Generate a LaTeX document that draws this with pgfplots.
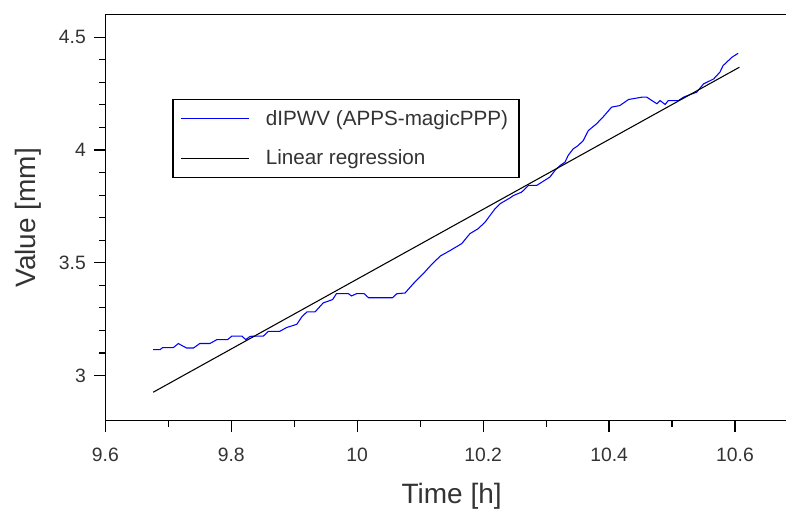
\documentclass[border=0pt]{standalone}
\usepackage{fontspec}
\setmainfont{Liberation Sans}
\usepackage{pgfplots}
\pgfplotsset{compat=1.18}
\definecolor{txt}{gray}{0.2}
\begin{document}
\begin{tikzpicture}
\begin{axis}[
  scale only axis,
  width=519.5pt, height=304.5pt,
  xmin=9.6, xmax=10.7, ymin=2.8, ymax=4.6,
  xtick={9.6,9.8,10,10.2,10.4,10.6},
  ytick={3,3.5,4,4.5},
  minor x tick num=1, minor y tick num=4,
  tick pos=left, tick align=outside,
  major tick length=8.6pt, minor tick length=4.5pt,
  every tick/.append style={black, line width=0.9pt},
  axis line style={black, line width=1.1pt},
  /pgf/number format/assume math mode=true,
  ticklabel style={font=\fontsize{14.5}{17}\selectfont, text=txt},
  xticklabel style={yshift=-8pt},
  yticklabel style={xshift=-2.5pt},
  xlabel={Time [h]}, ylabel={Value [mm]},
  label style={font=\fontsize{21}{25}\selectfont, text=txt},
  xlabel style={at={(axis description cs:0.5,-0.186)}, anchor=center},
  ylabel style={at={(axis description cs:-0.1109,0.5)}, anchor=center},
  legend style={at={(rel axis cs:0.0963,0.7924)}, anchor=north west,
    draw=black, line width=1.1pt, fill=white,
    font=\fontsize{15.5}{18}\selectfont, text=txt,
    inner xsep=6pt, inner ysep=6pt, row sep=13pt, column sep=10pt},
  legend cell align=left,
  legend image code/.code={\draw[#1] (0pt,0pt) -- (51pt,0pt);},
]
\addplot[blue, line width=0.8pt] coordinates {
(9.676,3.115)(9.687,3.115)(9.691,3.124)(9.708,3.124)(9.716,3.142)(9.721,3.134)
(9.729,3.122)(9.740,3.122)(9.750,3.142)(9.766,3.142)(9.777,3.159)(9.794,3.159)
(9.801,3.175)(9.817,3.175)(9.823,3.159)(9.830,3.174)(9.851,3.175)(9.859,3.196)
(9.877,3.196)(9.888,3.213)(9.904,3.227)(9.912,3.260)(9.920,3.282)(9.933,3.282)
(9.946,3.322)(9.961,3.337)(9.967,3.363)(9.986,3.363)(9.991,3.353)(9.999,3.363)
(10.011,3.363)(10.018,3.345)(10.056,3.345)(10.063,3.363)(10.076,3.366)(10.089,3.407)
(10.105,3.452)(10.118,3.492)(10.132,3.530)(10.148,3.555)(10.166,3.585)(10.179,3.629)
(10.192,3.651)(10.203,3.680)(10.211,3.710)(10.219,3.740)(10.227,3.762)(10.243,3.788)
(10.248,3.798)(10.261,3.813)(10.269,3.835)(10.272,3.843)(10.285,3.843)(10.293,3.857)
(10.306,3.880)(10.314,3.909)(10.322,3.931)(10.330,3.946)(10.335,3.976)(10.343,4.005)
(10.351,4.020)(10.359,4.042)(10.367,4.086)(10.380,4.116)(10.391,4.148)(10.404,4.190)
(10.417,4.197)(10.431,4.224)(10.452,4.234)(10.460,4.234)(10.468,4.219)(10.476,4.205)
(10.481,4.219)(10.489,4.202)(10.494,4.219)(10.510,4.219)(10.518,4.234)(10.529,4.246)
(10.539,4.256)(10.550,4.293)(10.566,4.315)(10.576,4.345)(10.581,4.374)(10.595,4.411)
(10.605,4.429)
};
\addlegendentry{dIPWV (APPS-magicPPP)}
\addplot[black, line width=0.8pt] coordinates {(9.676,2.926)(10.607,4.367)};
\addlegendentry{Linear regression}
\end{axis}
\pgfresetboundingbox
\path[use as bounding box] ([xshift=-79pt,yshift=-66.2pt]current axis.south west) rectangle ([xshift=-9pt,yshift=11pt]current axis.north east);
\end{tikzpicture}
\end{document}
